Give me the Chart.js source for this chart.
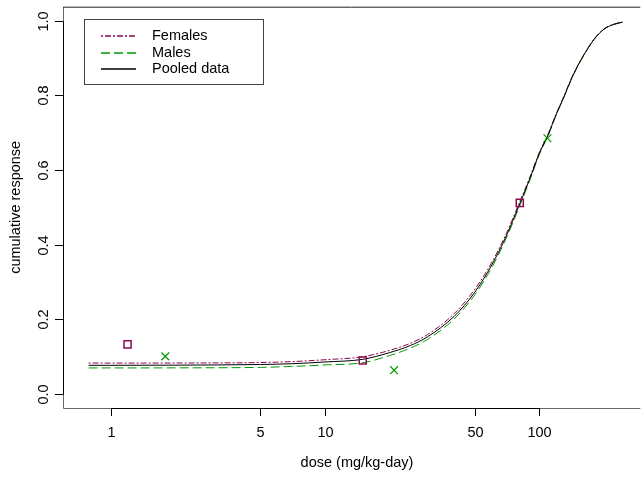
<!DOCTYPE html>
<html>
<head>
<meta charset="utf-8">
<script src="https://cdn.jsdelivr.net/npm/chart.js@4"></script>
<style>
  html, body { margin: 0; padding: 0; background: #fff; overflow: hidden; }
  #wrap { width: 642px; height: 477px; }
</style>
</head>
<body>
<div id="wrap"><canvas id="myChart"></canvas></div>
<script>
const doseGrid = [0.79, 1, 2, 5, 7, 10, 15, 20, 25, 30, 40, 50, 60, 70, 80, 90, 100, 110, 120, 130, 140, 150, 160, 180, 200, 220, 244];
const femalesFit = [0.083, 0.083, 0.0832, 0.0845, 0.087, 0.092, 0.100, 0.117, 0.136, 0.159, 0.215, 0.281, 0.353, 0.429, 0.508, 0.579, 0.648, 0.698, 0.752, 0.797, 0.842, 0.877, 0.906, 0.951, 0.978, 0.990, 0.996];
const malesFit = [0.070, 0.070, 0.0702, 0.0715, 0.074, 0.078, 0.084, 0.103, 0.123, 0.146, 0.201, 0.266, 0.339, 0.417, 0.497, 0.571, 0.642, 0.693, 0.749, 0.794, 0.839, 0.875, 0.904, 0.950, 0.977, 0.989, 0.996];
const pooledFit = [0.077, 0.077, 0.0774, 0.0792, 0.0813, 0.086, 0.093, 0.111, 0.130, 0.153, 0.208, 0.273, 0.346, 0.423, 0.502, 0.575, 0.645, 0.695, 0.750, 0.795, 0.840, 0.876, 0.905, 0.950, 0.977, 0.989, 0.996];

const femaleDose = [1.2, 15, 81];
const femaleResp = [0.133, 0.090, 0.512];
const maleDose = [1.8, 21, 109];
const maleResp = [0.101, 0.064, 0.685];

const xTicks = [1, 5, 10, 50, 100];
const yTicks = [0, 0.2, 0.4, 0.6, 0.8, 1.0];
const yTickLabels = ["0.0", "0.2", "0.4", "0.6", "0.8", "1.0"];

const legendLabels = ["Females", "Males", "Pooled data"];
const legendColors = ["rgb(139,10,80)", "rgb(0,154,0)", "rgb(0,0,0)"];
const legendDashes = [[2, 2, 6, 2], [9, 4], []];
const font = "14.5px 'Liberation Sans', Arial, sans-serif";

function pairs(xs, ys) {
  return xs.map((x, i) => ({ x: x, y: ys[i] }));
}

const curves = [femalesFit, malesFit, pooledFit].map((vals, i) => ({
  type: "line",
  label: legendLabels[i],
  data: pairs(doseGrid, vals),
  borderColor: legendColors[i],
  borderDash: legendDashes[i].slice(),
  borderWidth: 1,
  pointRadius: 0,
  fill: false,
  cubicInterpolationMode: "monotone",
  order: 3 - i,
}));

const points = [
  { type: "scatter", label: "f obs", data: pairs(femaleDose, femaleResp), pointStyle: "rect", pointRadius: 5,
    borderColor: legendColors[0], backgroundColor: "rgba(255,255,255,0)", borderWidth: 1.5, order: 0 },
  { type: "scatter", label: "m obs", data: pairs(maleDose, maleResp), pointStyle: "crossRot", pointRadius: 5.5,
    borderColor: legendColors[1], backgroundColor: legendColors[1], borderWidth: 1.2, order: 0 },
];

function drawLegend(ctx) {
  ctx.save();
  ctx.setLineDash([]);
  ctx.lineWidth = 1;
  ctx.strokeStyle = "#444";
  ctx.strokeRect(84.5, 19.5, 179, 65);
  ctx.font = font;
  ctx.textAlign = "left";
  ctx.textBaseline = "middle";
  for (let i = 0; i < legendLabels.length; i++) {
    const ly = [36, 53, 69][i];
    ctx.beginPath();
    ctx.strokeStyle = legendColors[i];
    ctx.lineWidth = 1.3;
    ctx.setLineDash(legendDashes[i].slice());
    ctx.moveTo(101, ly);
    ctx.lineTo(136, ly);
    ctx.stroke();
    ctx.setLineDash([]);
    ctx.fillStyle = "#000";
    ctx.fillText(legendLabels[i], 152, ly);
  }
  ctx.restore();
}

const axesPlugin = {
  id: "rAxes",
  afterDraw(chart) {
    const ctx = chart.ctx;
    const a = chart.chartArea;
    const xs = chart.scales.x, ys = chart.scales.y;
    ctx.save();
    ctx.setLineDash([]);
    // box (right edge falls outside the window)
    ctx.strokeStyle = "#666";
    ctx.lineWidth = 1;
    ctx.beginPath();
    ctx.moveTo(a.left + 0.5, a.top + 0.5);
    ctx.lineTo(a.left + 0.5, a.bottom + 0.5);
    ctx.lineTo(a.right + 5, a.bottom + 0.5);
    ctx.stroke();
    ctx.strokeStyle = "#222";
    ctx.beginPath();
    ctx.moveTo(a.left, a.top + 0.5);
    ctx.lineTo(a.right + 5, a.top + 0.5);
    ctx.stroke();

    ctx.strokeStyle = "#000";
    ctx.fillStyle = "#000";
    ctx.font = font;
    // x axis
    const x0 = Math.round(xs.getPixelForValue(xTicks[0])) + 0.5;
    const x1 = Math.round(xs.getPixelForValue(xTicks[xTicks.length - 1])) + 0.5;
    ctx.beginPath();
    ctx.moveTo(x0, a.bottom + 0.5);
    ctx.lineTo(x1, a.bottom + 0.5);
    ctx.stroke();
    ctx.textAlign = "center";
    ctx.textBaseline = "middle";
    xTicks.forEach(t => {
      const px = Math.round(xs.getPixelForValue(t)) + 0.5;
      ctx.beginPath();
      ctx.moveTo(px, a.bottom);
      ctx.lineTo(px, a.bottom + 8);
      ctx.stroke();
      ctx.fillText(String(t), px, a.bottom + 25);
    });
    ctx.fillText("dose (mg/kg-day)", (a.left + 651) / 2, 463);

    // y axis
    const y0 = Math.round(ys.getPixelForValue(yTicks[0])) + 0.5;
    const y1 = Math.round(ys.getPixelForValue(yTicks[yTicks.length - 1])) + 0.5;
    ctx.beginPath();
    ctx.moveTo(a.left + 0.5, y0);
    ctx.lineTo(a.left + 0.5, y1);
    ctx.stroke();
    yTicks.forEach((t, i) => {
      const py = Math.round(ys.getPixelForValue(t)) + 0.5;
      ctx.beginPath();
      ctx.moveTo(a.left, py);
      ctx.lineTo(a.left - 8, py);
      ctx.stroke();
      ctx.save();
      ctx.translate(44, py);
      ctx.rotate(-Math.PI / 2);
      ctx.fillText(yTickLabels[i], 0, 0);
      ctx.restore();
    });
    ctx.save();
    ctx.translate(16, (a.top + a.bottom) / 2);
    ctx.rotate(-Math.PI / 2);
    ctx.fillText("cumulative response", 0, 0);
    ctx.restore();
    ctx.restore();

    drawLegend(ctx);
  }
};

const chart = document.getElementById("myChart");
const config = {
  data: { datasets: [...curves, ...points] },
  options: {
    responsive: true,
    maintainAspectRatio: false,
    animation: false,
    layout: { padding: { left: 63, top: 5, right: 0, bottom: 69 } },
    scales: {
      x: { type: "logarithmic", min: 0.636, max: 280, display: false },
      y: { type: "linear", min: -0.0373, max: 1.0373, display: false },
    },
    plugins: {
      legend: { display: false },
      tooltip: { enabled: false },
    },
  },
  plugins: [axesPlugin],
};

const chart01 = new Chart(chart, config);
</script>
</body>
</html>
